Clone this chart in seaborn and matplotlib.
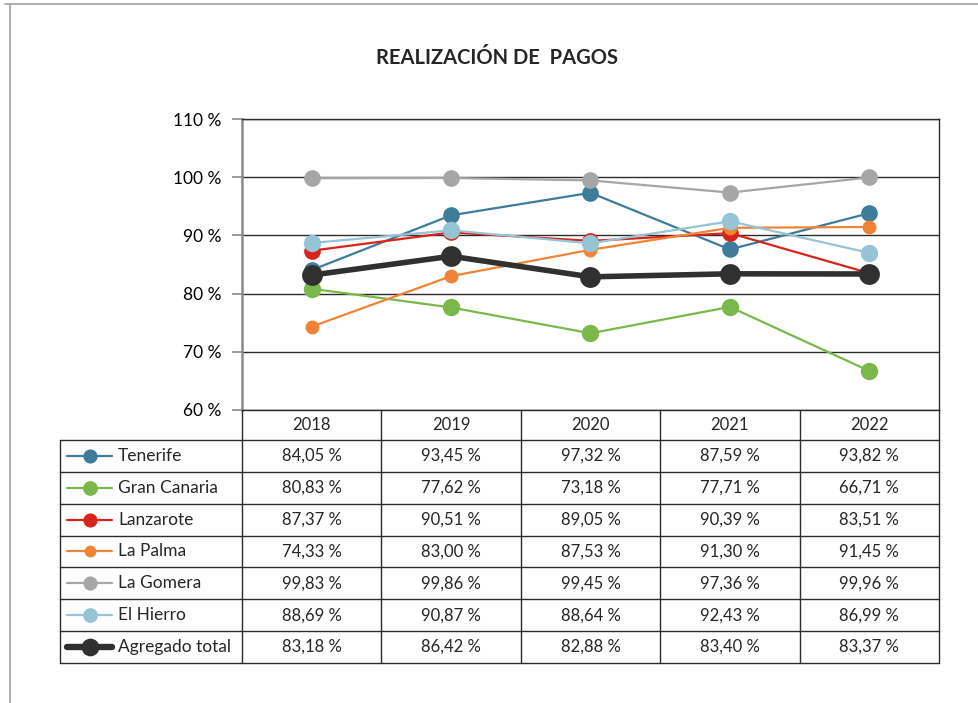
import numpy as np
import pandas as pd
import matplotlib
matplotlib.use("Agg")
from matplotlib import pyplot as plt
from matplotlib.lines import Line2D
import seaborn as sns

# datos
years = ["2018", "2019", "2020", "2021", "2022"]
islands = ["Tenerife", "Gran Canaria", "Lanzarote", "La Palma", "La Gomera", "El Hierro", "Agregado total"]
tenerife = [84.05, 93.45, 97.32, 87.59, 93.82]
gran_canaria = [80.83, 77.62, 73.18, 77.71, 66.71]
lanzarote = [87.37, 90.51, 89.05, 90.39, 83.51]
la_palma = [74.33, 83.00, 87.53, 91.30, 91.45]
la_gomera = [99.83, 99.86, 99.45, 97.36, 99.96]
el_hierro = [88.69, 90.87, 88.64, 92.43, 86.99]
agregado = [83.18, 86.42, 82.88, 83.40, 83.37]
series = [tenerife, gran_canaria, lanzarote, la_palma, la_gomera, el_hierro, agregado]
colors = ["#3E7C9B", "#7BB84C", "#D9231A", "#F08335", "#A6A6A6", "#95C4D6", "#303030"]
lws = [1.6, 1.6, 1.6, 1.6, 1.6, 1.6, 4.0]
msizes = [12, 12.5, 12, 10, 12, 12.5, 15]

sns.set_theme(style="white")
plt.rcParams['font.family'] = ['Lato', 'DejaVu Sans']

df = pd.DataFrame({
    'isla': np.repeat(islands, len(years)),
    'pos': np.tile(np.arange(len(years)), len(islands)),
    'valor': np.concatenate(series),
})

W, H = 979, 703
fig = plt.figure(figsize=(W / 100, H / 100), dpi=100)
fig.patch.set_facecolor('white')

def fx(px):
    return px / W

def fy(py):
    return 1 - py / H

L, R, T, B = 242, 939, 119, 410
ax = fig.add_axes([fx(L), fy(B), fx(R) - fx(L), fy(T) - fy(B)])

for i, isla in enumerate(islands):
    sub = df[df['isla'] == isla]
    sns.lineplot(data=sub, x='pos', y='valor', ax=ax, color=colors[i], linewidth=lws[i],
                 marker='o', markersize=msizes[i], markeredgewidth=0, zorder=3 + i,
                 legend=False)

ax.set_xlim(-0.5, len(years) - 0.5)
ax.set_ylim(60, 110)
ax.set_yticks([60, 70, 80, 90, 100, 110])
ax.set_yticklabels([f"{v} %" for v in [60, 70, 80, 90, 100, 110]], fontsize=12.5)
ax.set_xticks([])
ax.set_xlabel('')
ax.set_ylabel('')
ax.yaxis.grid(True, color='#2b2b2b', linewidth=1.0)
ax.set_axisbelow(True)
ax.tick_params(axis='y', left=True, length=7, width=1.2, color='#8a8a8a', pad=8, labelcolor='black')
for s in ['top', 'right', 'bottom']:
    ax.spines[s].set_color('#2b2b2b')
    ax.spines[s].set_linewidth(1.0)
ax.spines['left'].set_color('#8a8a8a')
ax.spines['left'].set_linewidth(1.8)

fig.text(fx(497), fy(58), "REALIZACIÓN DE  PAGOS", ha='center', va='center',
         fontsize=14.5, fontweight='bold')

# tabla de datos
TL, TB = 60, 663
colw = (R - L) / len(years)
w = (L - TL) / colw
hdr = 30 / 31.86
nrows = len(islands)
axt = fig.add_axes([fx(TL), fy(TB), fx(R) - fx(TL), fy(B) - fy(TB)])
axt.set_xlim(-w, len(years))
axt.set_ylim(hdr + nrows, 0)
axt.axis('off')

lc = '#2b2b2b'
for j in range(len(years) + 1):
    axt.plot([j, j], [0, hdr + nrows], color=lc, lw=1.0, clip_on=False)
axt.plot([-w, -w], [hdr, hdr + nrows], color=lc, lw=1.0, clip_on=False)
for r in range(nrows + 1):
    axt.plot([-w, len(years)], [hdr + r, hdr + r], color=lc, lw=1.0, clip_on=False)

for j, yr in enumerate(years):
    axt.text(j + 0.5, hdr / 2, yr, ha='center', va='center', fontsize=12)

for i, isla in enumerate(islands):
    yc = hdr + i + 0.5
    x0 = -w + 7 / colw
    x1 = -w + 52 / colw
    axt.add_line(Line2D([x0, x1], [yc, yc], color=colors[i], lw=lws[i] + (0.6 if i == 6 else 0)))
    axt.plot([(x0 + x1) / 2], [yc], marker='o', color=colors[i], markersize=msizes[i] * 0.85,
             markeredgewidth=0)
    axt.text(-w + 58 / colw, yc, isla, ha='left', va='center', fontsize=12.5)
    for j, v in enumerate(series[i]):
        axt.text(j + 0.5, yc, f"{v:.2f} %".replace('.', ','), ha='center', va='center', fontsize=12)

# marco exterior
fig.add_artist(Line2D([fx(5), 1], [fy(4), fy(4)], color='#a0a0a0', lw=1.2))
fig.add_artist(Line2D([fx(10), fx(10)], [fy(4), 0], color='#a0a0a0', lw=1.2))

fig.savefig("out.png", dpi=100, facecolor='white')
